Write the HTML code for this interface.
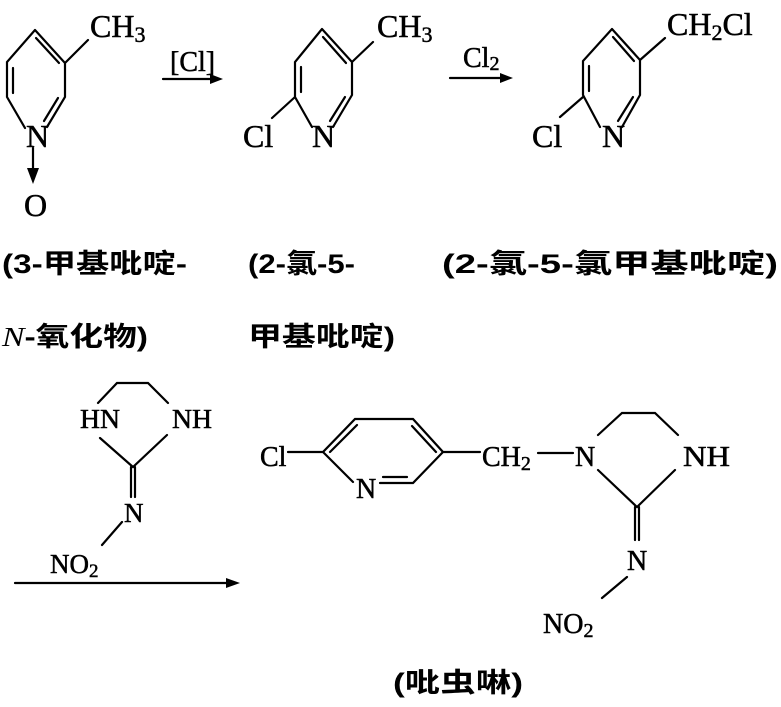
<!DOCTYPE html>
<html><head><meta charset="utf-8"><style>
html,body{margin:0;padding:0;background:#fff;}
svg{display:block;}
.t{font-family:"Liberation Serif",serif;fill:#000;stroke:#000;stroke-width:0.5;}
.c{font-family:"Liberation Sans","Noto Sans CJK SC",sans-serif;fill:#000;font-weight:bold;}
</style></head><body>
<svg width="781" height="707" viewBox="0 0 781 707" xmlns="http://www.w3.org/2000/svg">
<g stroke="#000" stroke-width="2.2" fill="none" stroke-linecap="round">
<path d="M35,30 L65,63 L65,97 L47,127 M35,30 L7,62 L7,97 L25,128 M65,63 L88,40"/>
<path d="M36,38 L59,63 M13,68 L13,93 M58,98 L44,121"/>
<path d="M33,148 L33,170"/>
<path d="M163,79 L212,79"/>
<path d="M322,29 L352,62 L352,95 L333,127 M322,29 L295,62 L295,97 L312,127 M272,118 L295,97 M352,62 L373,42"/>
<path d="M323,37 L346,63 M301,67 L301,92 M345,97 L330,121"/>
<path d="M450,78 L502,78"/>
<path d="M612,29 L640,60 L640,95 L622,127 M612,29 L583,61 L583,95 L600,127 M560,117 L583,97 M640,60 L665,38"/>
<path d="M613,37 L634,61 M589,66 L589,91 M633,97 L618,121"/>
<path d="M98,403 L117,383 L148,383 L168,403 M100,438 L133,467 L167,435 M131,467 L131,497 M135,467 L135,497 M122,522 L102,545"/>
<path d="M15,583 L228,583"/>
<path d="M288,452 L323,452 L355,419 L413,419 L443,452 L413,483 L380,483 M323,452 L353,482 M330,452 L357,425 M412,426 L436,452 M383,477 L407,477 M443,452 L480,452 M538,453 L573,453"/>
<path d="M598,435 L622,413 L655,413 L678,435 M598,470 L637,507 L675,470 M635,507 L635,540 M639,507 L639,540 M627,577 L602,598"/>
</g>
<g fill="#000">
<polygon points="27,168 39,168 33,184"/>
<polygon points="210,74 223,79 210,84"/>
<polygon points="500,73 513,78 500,83"/>
<polygon points="226,578 240,583 226,588"/>
</g>
<g class="t">
<text x="90" y="37" font-size="32">CH<tspan font-size="22" dy="5">3</tspan></text>
<text x="26" y="147" font-size="32">N</text>
<text x="24" y="216" font-size="32">O</text>
<text x="170" y="71" font-size="28">[Cl]</text>
<text x="243" y="147" font-size="32">Cl</text>
<text x="312" y="147" font-size="32">N</text>
<text x="377" y="37" font-size="32">CH<tspan font-size="22" dy="5">3</tspan></text>
<text x="463" y="67" font-size="28">Cl<tspan font-size="20" dy="3">2</tspan></text>
<text x="532" y="147" font-size="32">Cl</text>
<text x="602" y="147" font-size="32">N</text>
<text x="667" y="35" font-size="32">CH<tspan font-size="22" dy="5">2</tspan><tspan dy="-5">Cl</tspan></text>
<text x="80" y="428" font-size="27" textLength="40" lengthAdjust="spacingAndGlyphs">HN</text>
<text x="172" y="428" font-size="27" textLength="40" lengthAdjust="spacingAndGlyphs">NH</text>
<text x="124" y="522" font-size="27">N</text>
<text x="50" y="573" font-size="27">NO<tspan font-size="19" dy="4">2</tspan></text>
<text x="260" y="466" font-size="28">Cl</text>
<text x="356" y="498" font-size="28">N</text>
<text x="482" y="466" font-size="28">CH<tspan font-size="20" dy="4">2</tspan></text>
<text x="575" y="466" font-size="28">N</text>
<text x="683" y="466" font-size="28" textLength="47" lengthAdjust="spacingAndGlyphs">NH</text>
<text x="627" y="570" font-size="28">N</text>
<text x="543" y="633" font-size="28">NO<tspan font-size="20" dy="4">2</tspan></text>
</g>
<g class="c" font-size="27">
<text x="2" y="273" textLength="185" lengthAdjust="spacingAndGlyphs">(3-甲基吡啶-</text>
<text x="248" y="273" textLength="107" lengthAdjust="spacingAndGlyphs">(2-氯-5-</text>
<text x="442" y="273" textLength="336" lengthAdjust="spacingAndGlyphs">(2-氯-5-氯甲基吡啶)</text>
<text x="2" y="346" textLength="146" lengthAdjust="spacingAndGlyphs"><tspan font-family="Liberation Serif" font-style="italic" font-weight="normal">N</tspan>-氧化物)</text>
<text x="248" y="346" textLength="147" lengthAdjust="spacingAndGlyphs">甲基吡啶)</text>
<text x="393" y="692" textLength="130" lengthAdjust="spacingAndGlyphs">(吡虫啉)</text>
</g>
</svg>
</body></html>
